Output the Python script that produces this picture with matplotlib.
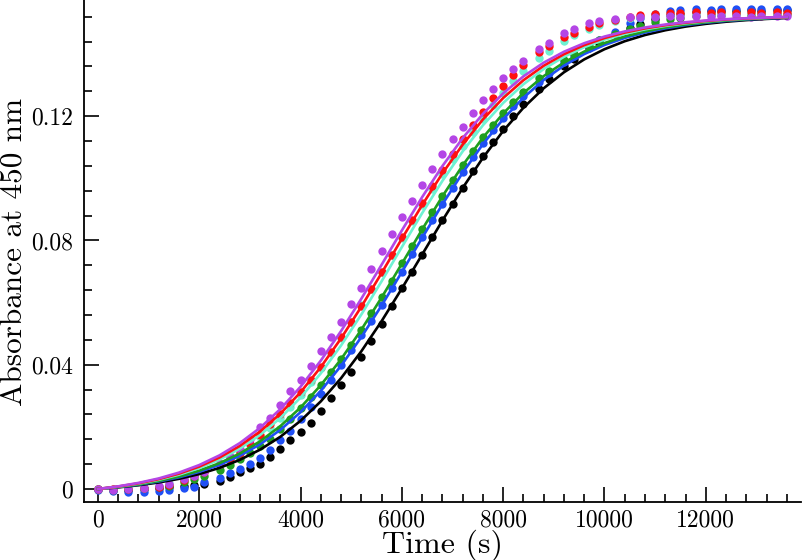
import matplotlib
matplotlib.use("Agg")
import matplotlib.pyplot as plt
from matplotlib.ticker import FixedLocator, MultipleLocator

plt.rcParams['font.family'] = 'cmr10'
plt.rcParams['axes.formatter.use_mathtext'] = True

# ---- data -------------------------------------------------------------
t_data = [0, 300, 600, 900, 1200, 1400, 1700, 1900, 2100, 2400, 2600, 2800, 3000, 3200,
          3400, 3600, 3800, 4000, 4200, 4400, 4600, 4800, 5000, 5200, 5400, 5600, 5800,
          6000, 6200, 6400, 6600, 6800, 7000, 7200, 7400, 7600, 7800, 8000, 8200, 8400,
          8700, 8900, 9200, 9400, 9700, 9900, 10200, 10500, 10700, 11000, 11300, 11500,
          11800, 12100, 12300, 12600, 12900, 13100, 13400, 13600]

black_pts = [0.0000, -0.0002, -0.0003, -0.0001, 0.0002, 0.0005, 0.0010, 0.0013, 0.0017, 0.0027,
             0.0038, 0.0055, 0.0068, 0.0080, 0.0104, 0.0130, 0.0158, 0.0182, 0.0213, 0.0252,
             0.0292, 0.0334, 0.0377, 0.0425, 0.0477, 0.0532, 0.0590, 0.0646, 0.0699, 0.0754,
             0.0810, 0.0865, 0.0918, 0.0970, 0.1022, 0.1071, 0.1117, 0.1160, 0.1201, 0.1238,
             0.1289, 0.1320, 0.1360, 0.1385, 0.1418, 0.1437, 0.1463, 0.1484, 0.1497, 0.1513,
             0.1525, 0.1530, 0.1535, 0.1538, 0.1539, 0.1540, 0.1541, 0.1540, 0.1542, 0.1541]

blue_pts = [-0.0003, -0.0005, -0.0009, -0.0011, -0.0006, -0.0002, 0.0002, 0.0007, 0.0022, 0.0035,
            0.0050, 0.0064, 0.0080, 0.0100, 0.0126, 0.0156, 0.0188, 0.0226, 0.0264, 0.0306,
            0.0350, 0.0398, 0.0448, 0.0494, 0.0542, 0.0593, 0.0646, 0.0700, 0.0755, 0.0810,
            0.0865, 0.0918, 0.0970, 0.1020, 0.1068, 0.1113, 0.1155, 0.1195, 0.1232, 0.1265,
            0.1311, 0.1339, 0.1375, 0.1395, 0.1424, 0.1445, 0.1472, 0.1500, 0.1515, 0.1530,
            0.1540, 0.1542, 0.1544, 0.1543, 0.1545, 0.1544, 0.1546, 0.1544, 0.1545, 0.1544]

green_pts = [-0.0001, -0.0002, 0.0001, 0.0002, 0.0006, 0.0011, 0.0022, 0.0031, 0.0042, 0.0062,
             0.0078, 0.0095, 0.0116, 0.0138, 0.0161, 0.0193, 0.0226, 0.0260, 0.0296, 0.0334,
             0.0375, 0.0419, 0.0465, 0.0513, 0.0565, 0.0617, 0.0671, 0.0726, 0.0781, 0.0836,
             0.0890, 0.0942, 0.0993, 0.1042, 0.1088, 0.1132, 0.1173, 0.1211, 0.1246, 0.1278,
             0.1322, 0.1347, 0.1380, 0.1400, 0.1427, 0.1444, 0.1464, 0.1481, 0.1490, 0.1502,
             0.1512, 0.1517, 0.1522, 0.1525, 0.1526, 0.1528, 0.1527, 0.1529, 0.1528, 0.1529]

aqua_pts = [0.0000, -0.0001, 0.0002, 0.0004, 0.0010, 0.0019, 0.0033, 0.0045, 0.0058, 0.0082,
            0.0099, 0.0118, 0.0140, 0.0166, 0.0195, 0.0228, 0.0265, 0.0304, 0.0345, 0.0390,
            0.0437, 0.0487, 0.0538, 0.0591, 0.0644, 0.0699, 0.0754, 0.0809, 0.0863, 0.0914,
            0.0965, 0.1014, 0.1061, 0.1105, 0.1148, 0.1192, 0.1236, 0.1276, 0.1312, 0.1345,
            0.1387, 0.1411, 0.1443, 0.1460, 0.1482, 0.1494, 0.1507, 0.1516, 0.1520, 0.1524,
            0.1527, 0.1526, 0.1529, 0.1528, 0.1530, 0.1529, 0.1531, 0.1530, 0.1531, 0.1530]

red_pts = [0.0001, -0.0001, 0.0000, 0.0003, 0.0006, 0.0012, 0.0030, 0.0041, 0.0055, 0.0080,
           0.0098, 0.0117, 0.0145, 0.0175, 0.0208, 0.0242, 0.0277, 0.0313, 0.0352, 0.0394,
           0.0440, 0.0488, 0.0537, 0.0589, 0.0643, 0.0698, 0.0754, 0.0810, 0.0866, 0.0920,
           0.0974, 0.1026, 0.1077, 0.1125, 0.1173, 0.1215, 0.1258, 0.1298, 0.1334, 0.1365,
           0.1405, 0.1427, 0.1454, 0.1469, 0.1488, 0.1499, 0.1511, 0.1520, 0.1526, 0.1529,
           0.1533, 0.1531, 0.1534, 0.1532, 0.1535, 0.1533, 0.1534, 0.1532, 0.1535, 0.1533]

purple_pts = [0.0000, -0.0002, 0.0000, 0.0002, 0.0008, 0.0015, 0.0031, 0.0041, 0.0053, 0.0080,
              0.0107, 0.0128, 0.0162, 0.0198, 0.0228, 0.0270, 0.0314, 0.0352, 0.0396, 0.0443,
              0.0490, 0.0539, 0.0595, 0.0648, 0.0707, 0.0767, 0.0822, 0.0877, 0.0927, 0.0979,
              0.1031, 0.1079, 0.1126, 0.1164, 0.1210, 0.1253, 0.1287, 0.1324, 0.1352, 0.1378,
              0.1417, 0.1437, 0.1467, 0.1482, 0.1501, 0.1508, 0.1514, 0.1518, 0.1520, 0.1519,
              0.1521, 0.1520, 0.1522, 0.1519, 0.1521, 0.1522, 0.1520, 0.1521, 0.1522, 0.1521]

t_fit = [0, 400, 800, 1200, 1600, 2000, 2400, 2800, 3200, 3600, 4000, 4400, 4800, 5200,
         5600, 6000, 6400, 6800, 7200, 7600, 8000, 8400, 8800, 9200, 9600, 10000, 10400,
         10800, 11200, 11600, 12000, 12400, 12800, 13200, 13600]

black_fit = [0.0, 0.00051, 0.00119, 0.00209, 0.00326, 0.00480, 0.00679, 0.00936, 0.01265, 0.01679,
             0.02194, 0.02821, 0.03568, 0.04433, 0.05403, 0.06453, 0.07546, 0.08639, 0.09689, 0.10660,
             0.11525, 0.12272, 0.12899, 0.13413, 0.13828, 0.14156, 0.14413, 0.14613, 0.14766, 0.14884,
             0.14973, 0.15041, 0.15092, 0.15131, 0.15161]
blue_fit = [0.0, 0.00059, 0.00137, 0.00240, 0.00375, 0.00550, 0.00777, 0.01068, 0.01438, 0.01902,
            0.02473, 0.03160, 0.03968, 0.04890, 0.05906, 0.06984, 0.08084, 0.09163, 0.10178, 0.11100,
            0.11908, 0.12596, 0.13166, 0.13630, 0.14000, 0.14291, 0.14518, 0.14694, 0.14828, 0.14931,
            0.15009, 0.15068, 0.15113, 0.15147, 0.15172]
green_fit = [0.0, 0.00063, 0.00147, 0.00257, 0.00401, 0.00589, 0.00831, 0.01141, 0.01533, 0.02022,
             0.02622, 0.03341, 0.04179, 0.05127, 0.06163, 0.07252, 0.08352, 0.09419, 0.10415, 0.11310,
             0.12089, 0.12747, 0.13290, 0.13730, 0.14079, 0.14353, 0.14566, 0.14731, 0.14857, 0.14953,
             0.15025, 0.15081, 0.15123, 0.15154, 0.15178]
aqua_fit = [0.0, 0.00073, 0.00169, 0.00295, 0.00460, 0.00674, 0.00948, 0.01298, 0.01738, 0.02283,
            0.02942, 0.03723, 0.04620, 0.05617, 0.06686, 0.07788, 0.08879, 0.09917, 0.10867, 0.11707,
            0.12426, 0.13027, 0.13518, 0.13911, 0.14221, 0.14464, 0.14652, 0.14796, 0.14906, 0.14990,
            0.15054, 0.15102, 0.15138, 0.15166, 0.15187]
red_fit = [0.0, 0.00078, 0.00181, 0.00317, 0.00493, 0.00720, 0.01013, 0.01385, 0.01850, 0.02423,
           0.03113, 0.03924, 0.04849, 0.05869, 0.06951, 0.08056, 0.09139, 0.10158, 0.11083, 0.11895,
           0.12585, 0.13158, 0.13623, 0.13995, 0.14287, 0.14515, 0.14691, 0.14826, 0.14929, 0.15008,
           0.15067, 0.15112, 0.15146, 0.15172, 0.15191]
purple_fit = [0.0, 0.00084, 0.00195, 0.00339, 0.00527, 0.00770, 0.01082, 0.01476, 0.01967, 0.02570,
              0.03291, 0.04133, 0.05085, 0.06125, 0.07218, 0.08323, 0.09394, 0.10394, 0.11293, 0.12075,
              0.12736, 0.13282, 0.13723, 0.14074, 0.14349, 0.14563, 0.14728, 0.14855, 0.14951, 0.15024,
              0.15080, 0.15122, 0.15153, 0.15177, 0.15195]

series_colors = ['#000000', '#1f4ff5', '#1f9e1f', '#6ff2d2', '#ff1010', '#b446e6']
series_pts = [black_pts, blue_pts, green_pts, aqua_pts, red_pts, purple_pts]
series_fit = [black_fit, blue_fit, green_fit, aqua_fit, red_fit, purple_fit]

x_ticks = [0, 2000, 4000, 6000, 8000, 10000, 12000]
x_ticklabels = ['0', '2000', '4000', '6000', '8000', '10000', '12000']
y_ticks = [0, 0.04, 0.08, 0.12]
y_ticklabels = ['0', '0.04', '0.08', '0.12']

# ---- figure -----------------------------------------------------------
fig = plt.figure(figsize=(8.02, 5.60), dpi=100)
ax = fig.add_axes([84 / 802, 58 / 560, (801 - 84) / 802, 502 / 560])

for col, pts, fit in zip(series_colors, series_pts, series_fit):
    ax.plot(t_data, pts, 'o', color=col, markersize=6.0, markeredgewidth=0, zorder=2)
    ax.plot(t_fit, fit, '-', color=col, linewidth=1.9, zorder=3)

ax.set_xlim(-276, 13880)
ax.set_ylim(-0.0042, 0.1574)

for s in ['top', 'right']:
    ax.spines[s].set_visible(False)
for s in ['left', 'bottom']:
    ax.spines[s].set_linewidth(1.3)

ax.xaxis.set_major_locator(FixedLocator(x_ticks))
ax.set_xticklabels(x_ticklabels)
ax.xaxis.set_minor_locator(MultipleLocator(400))
ax.yaxis.set_major_locator(FixedLocator(y_ticks))
ax.set_yticklabels(y_ticklabels)
ax.yaxis.set_minor_locator(MultipleLocator(0.008))

ax.tick_params(which='both', direction='in', width=1.2)
ax.tick_params(which='major', length=11, labelsize=17)
ax.tick_params(which='minor', length=5.5)
ax.tick_params(axis='x', which='major', pad=5)
ax.tick_params(axis='y', which='major', pad=8)

fig.text(442 / 802, (560 - 545) / 560, 'Time (s)', fontsize=23,
         ha='center', va='center')
fig.text(15 / 802, (560 - 252) / 560, 'Absorbance at 450 nm', fontsize=22.5,
         ha='center', va='center', rotation=90)

fig.savefig('out.png', dpi=100)
